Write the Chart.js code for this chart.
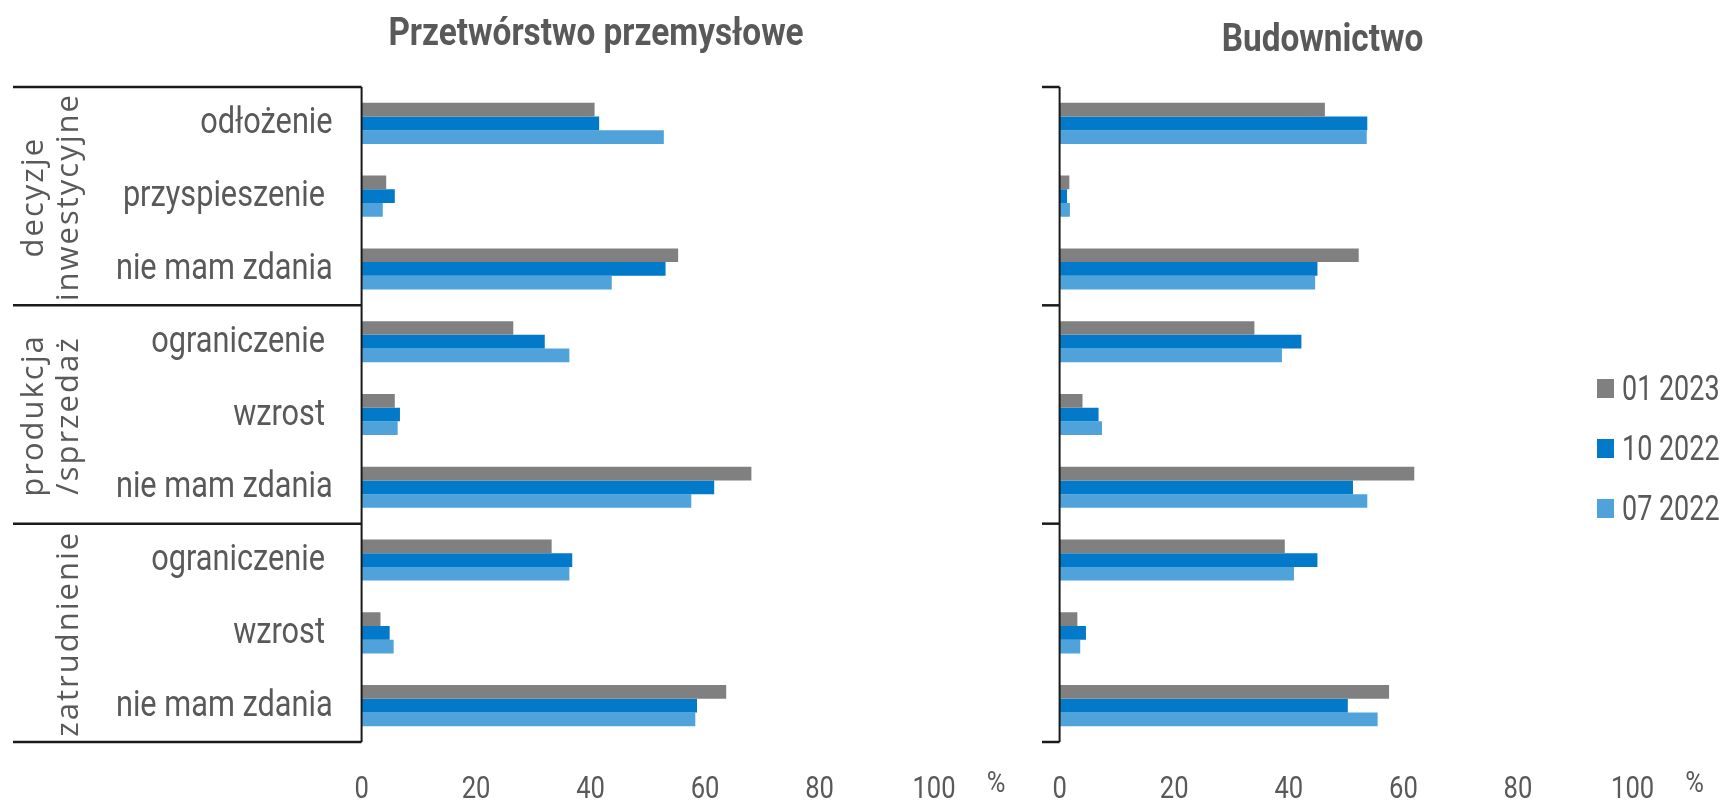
<!DOCTYPE html>
<html lang="pl">
<head>
    <meta charset="UTF-8">
    <title>Decyzje przedsiębiorstw</title>
    <script src="https://cdn.jsdelivr.net/npm/chart.js"></script>
    <style>
        body { margin: 0; background: #fff; }
        #wrap { position: relative; width: 1723px; height: 802px; overflow: hidden; }
        canvas { position: absolute; top: 0; }
        #leftChart { left: 0; }
        #rightChart { left: 1030px; }
    </style>
</head>
<body>
    <div id="wrap">
        <canvas id="leftChart" width="1030" height="802"></canvas>
        <canvas id="rightChart" width="693" height="802"></canvas>
    </div>

    <script>
        // categories (trailing spaces as in the source)
        const categories = ['odłożenie', 'przyspieszenie ', 'nie mam zdania', 'ograniczenie ', 'wzrost ', 'nie mam zdania', 'ograniczenie ', 'wzrost ', 'nie mam zdania'];
        const groups = [['decyzje', 'inwestycyjne'], ['produkcja', '/sprzedaż'], ['zatrudnienie']];
        const seriesLabels = ['01 2023', '10 2022', '07 2022'];
        const seriesColors = ['#808080', '#0279c9', '#4fa3da'];

        // Przetwórstwo przemysłowe
        const przem_01_2023 = [40.7, 4.3, 55.3, 26.5, 5.8, 68.1, 33.2, 3.3, 63.7];
        const przem_10_2022 = [41.5, 5.8, 53.1, 32.0, 6.7, 61.6, 36.8, 4.9, 58.6];
        const przem_07_2022 = [52.8, 3.7, 43.7, 36.3, 6.3, 57.6, 36.3, 5.6, 58.3];

        // Budownictwo
        const bud_01_2023 = [46.3, 1.7, 52.2, 34.0, 4.0, 61.9, 39.3, 3.1, 57.5];
        const bud_10_2022 = [53.7, 1.3, 45.0, 42.2, 6.8, 51.2, 45.0, 4.6, 50.3];
        const bud_07_2022 = [53.6, 1.8, 44.6, 38.8, 7.4, 53.7, 40.9, 3.6, 55.5];

        const xMin = 0, xMax = 100, xStep = 20;

        const textColor = '#595959';
        // the source uses a condensed face; Roboto squeezed horizontally stands in for it
        const fLabel = { font: '37px Roboto', sx: 0.83 };
        const fTick = { font: '32px Roboto', sx: 0.8 };
        const fLegend = { font: '35px Roboto', sx: 0.77 };
        const fTitle = { font: 'bold 39px Roboto', sx: 0.855 };

        function drawText(ctx, text, x, y, f, align) {
            ctx.save();
            ctx.translate(x, y);
            ctx.scale(f.sx, 1);
            ctx.font = f.font;
            ctx.fillStyle = textColor;
            ctx.textAlign = align;
            ctx.textBaseline = 'alphabetic';
            ctx.fillText(text, 0, 0);
            ctx.restore();
        }

        function makeDatasets(values) {
            return values.map((data, i) => ({
                label: seriesLabels[i],
                data: data,
                backgroundColor: seriesColors[i],
                borderWidth: 0,
                categoryPercentage: 0.565,
                barPercentage: 1.0
            }));
        }

        // y pixel of the boundary before category index k
        function boundary(scale, k) {
            return scale.getPixelForValue(k - 0.5);
        }

        const framePlugin = {
            id: 'frame',
            afterDraw(chart, args, opts) {
                const ctx = chart.ctx;
                const area = chart.chartArea;
                const x = chart.scales.x;
                const y = chart.scales.y;
                ctx.save();
                ctx.strokeStyle = '#1a1a1a';

                // vertical axis line
                ctx.lineWidth = 2;
                ctx.beginPath();
                ctx.moveTo(area.left, area.top);
                ctx.lineTo(area.left, area.bottom);
                ctx.stroke();

                // group boundaries
                ctx.lineWidth = 2.5;
                for (let g = 0; g <= groups.length; g++) {
                    const py = boundary(y, g * 3);
                    ctx.beginPath();
                    ctx.moveTo(opts.lineStart, py);
                    ctx.lineTo(area.left, py);
                    ctx.stroke();
                }

                // category labels
                if (opts.showLabels) {
                    categories.forEach((c, i) => {
                        drawText(ctx, c, area.left - 29, y.getPixelForTick(i) + 10, fLabel, 'right');
                    });
                }

                // group labels, rotated
                if (opts.showLabels) {
                    ctx.fillStyle = textColor;
                    ctx.font = "31px 'Open Sans', sans-serif";
                    ctx.letterSpacing = '2px';
                    ctx.textAlign = 'center';
                    ctx.textBaseline = 'alphabetic';
                    groups.forEach((lines, g) => {
                        const cy = (boundary(y, g * 3) + boundary(y, g * 3 + 3)) / 2;
                        const xs = lines.length === 2 ? [43, 78] : [78];
                        lines.forEach((t, j) => {
                            ctx.save();
                            ctx.translate(xs[j], cy + 1);
                            ctx.rotate(-Math.PI / 2);
                            ctx.fillText(t, 0, 0);
                            ctx.restore();
                        });
                    });
                    ctx.letterSpacing = '0px';
                }

                // value ticks
                x.ticks.forEach(t => {
                    drawText(ctx, String(t.value), x.getPixelForValue(t.value), 798, fTick, 'center');
                });
                drawText(ctx, '%', area.right + 62, 792, { font: '30px Roboto', sx: 0.85 }, 'center');

                // title
                drawText(ctx, opts.title, opts.titleX, opts.titleY, fTitle, 'center');

                // legend
                if (opts.legendX) {
                    seriesLabels.forEach((label, i) => {
                        const base = 400 + i * 60;
                        ctx.fillStyle = seriesColors[i];
                        ctx.fillRect(opts.legendX, base - 21, 17, 19);
                        drawText(ctx, label, opts.legendX + 25, base, fLegend, 'left');
                    });
                }
                ctx.restore();
            }
        };

        function makeChart(id, values, opts) {
            const ctx = document.getElementById(id).getContext('2d');
            return new Chart(ctx, {
                type: 'bar',
                data: { labels: categories, datasets: makeDatasets(values) },
                options: {
                    indexAxis: 'y',
                    responsive: false,
                    animation: false,
                    layout: { padding: { top: 87, right: opts.padRight, bottom: 0, left: 0 } },
                    scales: {
                        x: {
                            min: xMin,
                            max: xMax,
                            grid: { display: false, drawTicks: false },
                            border: { display: false },
                            ticks: { stepSize: xStep, display: false },
                            afterFit: s => { s.height = 60; }
                        },
                        y: {
                            grid: { display: false, drawTicks: false },
                            border: { display: false },
                            ticks: { display: false },
                            afterFit: s => { s.width = opts.axisWidth; }
                        }
                    },
                    plugins: {
                        legend: { display: false },
                        tooltip: { enabled: false },
                        frame: opts.frame
                    }
                },
                plugins: [framePlugin]
            });
        }

        makeChart('leftChart', [przem_01_2023, przem_10_2022, przem_07_2022], {
            padRight: 96, axisWidth: 361.6,
            frame: { lineStart: 13, showLabels: true, title: 'Przetwórstwo przemysłowe', titleX: 596, titleY: 45 }
        });

        makeChart('rightChart', [bud_01_2023, bud_10_2022, bud_07_2022], {
            padRight: 90.4, axisWidth: 29.6,
            frame: { lineStart: 12, showLabels: false, title: 'Budownictwo', titleX: 292.5, titleY: 51, legendX: 567 }
        });
    </script>
</body>
</html>
